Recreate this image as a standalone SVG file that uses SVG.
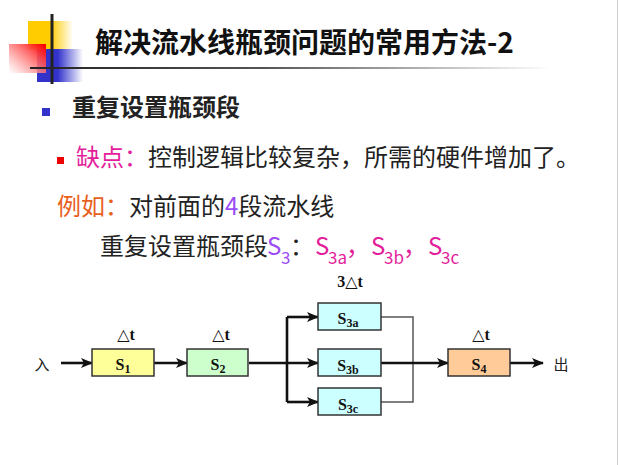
<svg xmlns="http://www.w3.org/2000/svg" width="620" height="465" viewBox="0 0 620 465">
<defs>
<linearGradient id="gy" x1="0" y1="0" x2="1" y2="0"><stop offset="0" stop-color="#ffcc00"/><stop offset="0.5" stop-color="#ffcc00"/><stop offset="1" stop-color="#ffcc00" stop-opacity="0"/></linearGradient>
<linearGradient id="gb" x1="0" y1="0" x2="1" y2="0"><stop offset="0" stop-color="#3333cc"/><stop offset="0.45" stop-color="#3333cc"/><stop offset="1" stop-color="#3333cc" stop-opacity="0"/></linearGradient>
<linearGradient id="gr" x1="1" y1="0.1" x2="0" y2="1"><stop offset="0" stop-color="#ff0000"/><stop offset="1" stop-color="#ffffff" stop-opacity="0.7"/></linearGradient>
<linearGradient id="gl" x1="0" y1="0" x2="1" y2="0"><stop offset="0" stop-color="#222"/><stop offset="0.45" stop-color="#555"/><stop offset="1" stop-color="#fff"/></linearGradient>
<marker id="ar" markerUnits="userSpaceOnUse" markerWidth="12" markerHeight="10" viewBox="0 0 12 10" refX="11" refY="5" orient="auto"><path d="M0,0 L12,5 L0,10 L3,5 z" fill="#111"/></marker>
</defs>
<style>
.cjk{font-family:"Noto Sans CJK SC","Noto Sans",sans-serif}
.b{font-weight:bold}
.t24{font-size:24px;fill:#222}
.mg{fill:#e31e9b}
.or{fill:#e8601c}
.pu{fill:#9c4cf5}
.lbl{font-family:"Liberation Serif","DejaVu Serif",serif;font-weight:bold;font-size:16px;fill:#111}
.sub{font-size:12px}
.dt{font-family:"Liberation Serif","DejaVu Serif",serif;font-weight:bold;font-size:16px;fill:#111}
.box{stroke:#333;stroke-width:1.5}
.thick{stroke:#111;stroke-width:2.6;fill:none}
.thin{stroke:#555;stroke-width:1.5;fill:none}
</style>
<rect x="0" y="0" width="620" height="465" fill="#fff"/>
<line x1="617.5" y1="0" x2="617.5" y2="465" stroke="#d0d0d0" stroke-width="1"/>
<g id="title-deco">
<rect x="28" y="21" width="45" height="28" fill="url(#gy)"/>
<rect x="37" y="49" width="46" height="33" fill="url(#gb)"/>
<rect x="9" y="44" width="37" height="29" fill="url(#gr)"/>
<rect x="50.5" y="14" width="3" height="70" fill="#222"/>
<rect x="30" y="67" width="520" height="2" fill="url(#gl)"/>
</g>
<text x="95" y="53" class="cjk b" font-size="28" fill="#111">解决流水线瓶颈问题的常用方法-2</text>
<rect x="42" y="108" width="8" height="8" fill="#3333cc"/>
<text x="72" y="116" class="cjk b t24">重复设置瓶颈段</text>
<rect x="57" y="157" width="7" height="7" fill="#ee0000"/>
<text x="76" y="166" class="cjk t24"><tspan class="mg">缺点：</tspan>控制逻辑比较复杂，所需的硬件增加了。</text>
<text x="57" y="215" class="cjk t24"><tspan class="or">例如：</tspan>对前面的<tspan class="pu">4</tspan>段流水线</text>
<text y="255" class="cjk t24"><tspan x="100">重复设置瓶颈段</tspan><tspan x="267" class="pu">S</tspan><tspan x="281" y="264" class="pu" font-size="17">3</tspan><tspan x="290" y="255">：</tspan><tspan x="315" class="mg">S</tspan><tspan x="328" y="264" class="mg" font-size="17">3a</tspan><tspan x="346" y="255" class="mg">，</tspan><tspan x="371" class="mg">S</tspan><tspan x="384" y="264" class="mg" font-size="17">3b</tspan><tspan x="403" y="255" class="mg">，</tspan><tspan x="428" class="mg">S</tspan><tspan x="441" y="264" class="mg" font-size="17">3c</tspan></text>
<g id="connectors">
<path class="thick" d="M61,363 L92,363" marker-end="url(#ar)"/>
<path class="thick" d="M154,363 L187,363" marker-end="url(#ar)"/>
<path class="thick" d="M249,363 L318,363" marker-end="url(#ar)"/>
<path class="thick" d="M287,317 L287,402" stroke-width="2"/>
<path class="thick" d="M287,317 L318,317" marker-end="url(#ar)"/>
<path class="thick" d="M287,402 L318,402" marker-end="url(#ar)"/>
<path class="thin" d="M381,317 H413 V402 H381"/>
<path class="thick" d="M381,363 L448,363" marker-end="url(#ar)"/>
<path class="thick" d="M510,363 L543,363" marker-end="url(#ar)"/>
</g>
<g id="in"><text x="42" y="370" class="cjk" font-size="15" fill="#222" text-anchor="middle">入</text></g>
<g id="out"><text x="561" y="370" class="cjk" font-size="15" fill="#222" text-anchor="middle">出</text></g>
<g id="S1">
<rect class="box" x="92" y="349" width="62" height="27" fill="#ffff99"/>
<text x="123" y="370" class="lbl" text-anchor="middle">S<tspan class="sub" dy="3">1</tspan></text>
<text x="126" y="340" class="dt" text-anchor="middle">△t</text>
</g>
<g id="S2">
<rect class="box" x="187" y="349" width="61" height="27" fill="#ccffcc"/>
<text x="218" y="370" class="lbl" text-anchor="middle">S<tspan class="sub" dy="3">2</tspan></text>
<text x="221" y="340" class="dt" text-anchor="middle">△t</text>
</g>
<g id="S3a">
<rect class="box" x="318" y="303" width="63" height="27" fill="#ccffff"/>
<text x="348" y="324" class="lbl" text-anchor="middle">S<tspan class="sub" dy="3">3a</tspan></text>
<text x="350" y="287" class="dt" text-anchor="middle">3△t</text>
</g>
<g id="S3b">
<rect class="box" x="318" y="349" width="63" height="27" fill="#ccffff"/>
<text x="348" y="371" class="lbl" text-anchor="middle">S<tspan class="sub" dy="3">3b</tspan></text>
</g>
<g id="S3c">
<rect class="box" x="318" y="388" width="63" height="27" fill="#ccffff"/>
<text x="348" y="410" class="lbl" text-anchor="middle">S<tspan class="sub" dy="3">3c</tspan></text>
</g>
<g id="S4">
<rect class="box" x="448" y="349" width="62" height="27" fill="#ffcc99"/>
<text x="479" y="370" class="lbl" text-anchor="middle">S<tspan class="sub" dy="3">4</tspan></text>
<text x="481" y="340" class="dt" text-anchor="middle">△t</text>
</g>
</svg>
